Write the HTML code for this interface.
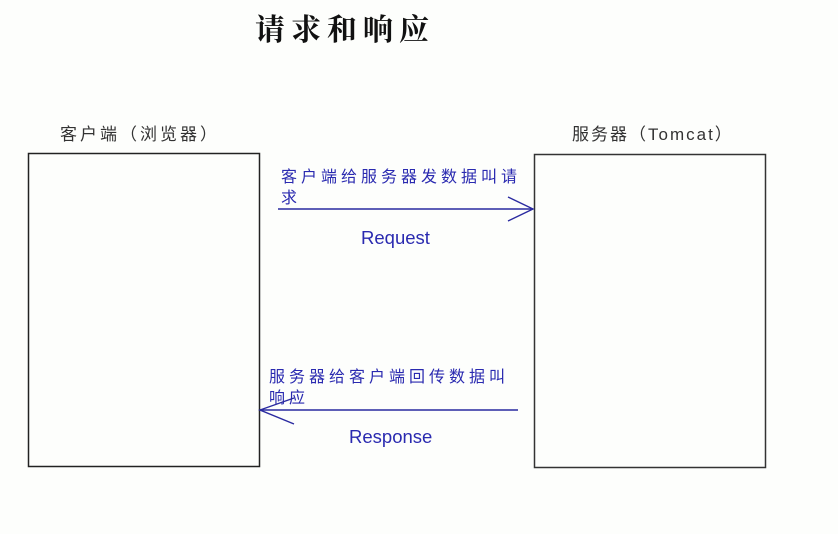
<!DOCTYPE html>
<html><head><meta charset="utf-8"><style>
html,body{margin:0;padding:0;background:#fdfefc;}
body{width:838px;height:534px;overflow:hidden;}
</style></head><body>
<svg width="838" height="534" xmlns="http://www.w3.org/2000/svg" style="display:block">
<rect width="838" height="534" fill="#fdfefc"/>
<text x="255" y="40" font-family="'Noto Serif CJK SC',serif" font-weight="bold" font-size="30" letter-spacing="6" fill="#111">请求和响应</text>
<text x="60" y="140" font-family="'Liberation Sans','Noto Sans CJK SC',sans-serif" font-size="17" letter-spacing="3" fill="#333">客户端（浏览器）</text>
<text x="572" y="140" font-family="'Liberation Sans','Noto Sans CJK SC',sans-serif" font-size="17" letter-spacing="2" fill="#333">服务器（Tomcat）</text>
<rect x="28.5" y="153.5" width="231" height="313" fill="none" stroke="#222" stroke-width="1.5"/>
<rect x="534.5" y="154.5" width="231" height="313" fill="none" stroke="#333" stroke-width="1.5"/>
<g font-family="'Liberation Sans','Noto Sans CJK SC',sans-serif" font-size="16" fill="#2a2ab0" letter-spacing="4">
<text x="281" y="182">客户端给服务器发数据叫请</text>
<text x="281" y="203">求</text>
<text x="269" y="382">服务器给客户端回传数据叫</text>
<text x="269" y="403">响应</text>
</g>
<g font-family="'Liberation Sans',sans-serif" font-size="18.5" fill="#2a2ab0">
<text x="361" y="244">Request</text>
<text x="349" y="443">Response</text>
</g>
<g stroke="#2a2aa0" stroke-width="1.4" fill="none">
<line x1="278" y1="209" x2="533" y2="209"/>
<polyline points="508,197 533,209 508,221"/>
<line x1="260" y1="410" x2="518" y2="410"/>
<polyline points="294,398 260,410 294,424"/>
</g>
</svg>
</body></html>
